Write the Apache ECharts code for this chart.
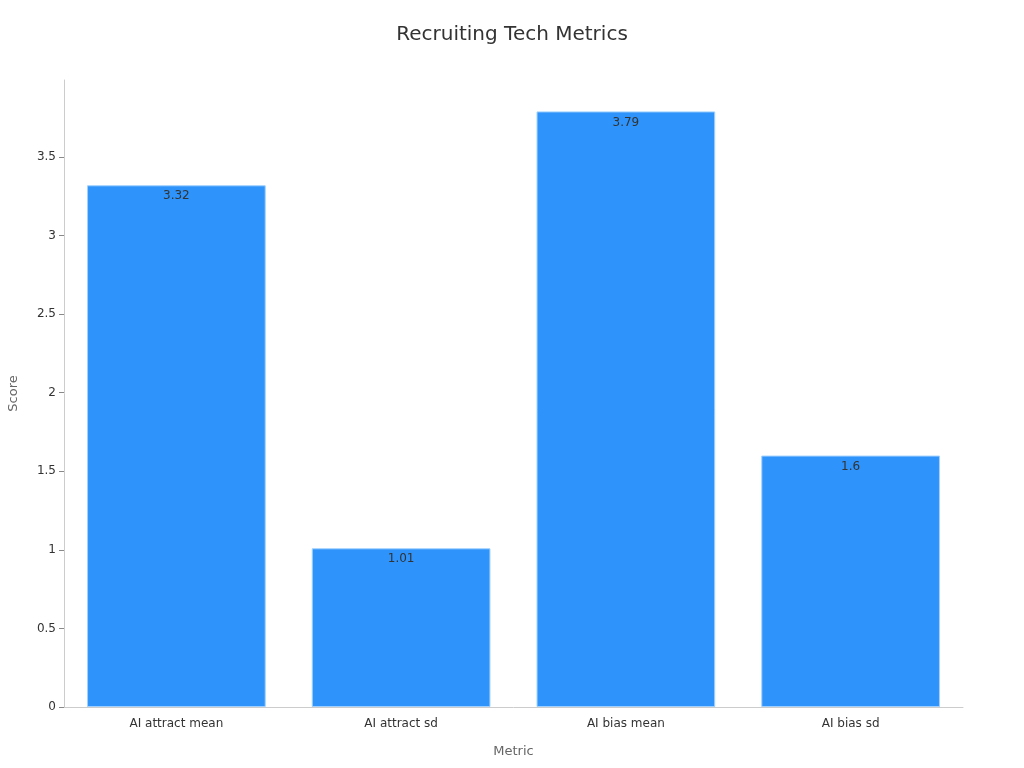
<!DOCTYPE html>
<html>
<head>
<meta charset="utf-8">
<script src="https://cdn.jsdelivr.net/npm/echarts@6/dist/echarts.min.js"></script>
<style>html,body{margin:0;padding:0;background:#fff}#c{width:1024px;height:768px}</style>
</head>
<body>
<div id="c"></div>
<script>
var categories = ['AI attract mean', 'AI attract sd', 'AI bias mean', 'AI bias sd'];
var scores = [3.32, 1.01, 3.79, 1.6];
var yTicks = [0, 0.5, 1, 1.5, 2, 2.5, 3, 3.5];
var yMax = 3.99;

var chart = echarts.init(document.getElementById('c'));
chart.setOption({
  backgroundColor: '#fff',
  textStyle: { fontFamily: 'DejaVu Sans' },
  title: {
    text: 'Recruiting Tech Metrics',
    left: 'center',
    top: 20,
    textStyle: { fontSize: 20, fontWeight: 'normal', color: '#333', fontFamily: 'DejaVu Sans' }
  },
  grid: { left: 64, right: 61, top: 80, bottom: 61, containLabel: false, outerBoundsMode: 'none' },
  xAxis: {
    type: 'category',
    data: categories,
    name: 'Metric',
    nameLocation: 'middle',
    nameGap: 38,
    nameTextStyle: { color: '#666', fontSize: 13 },
    axisLine: { lineStyle: { color: '#ccc' } },
    axisTick: { alignWithLabel: true, lineStyle: { color: '#666' } },
    axisLabel: { color: '#333', fontSize: 12, margin: 11 }
  },
  yAxis: {
    type: 'value',
    min: 0,
    max: yMax,
    interval: 0.5,
    name: 'Score',
    nameLocation: 'middle',
    nameGap: 44,
    nameTextStyle: { color: '#666', fontSize: 13 },
    axisLine: { show: true, lineStyle: { color: '#ccc' } },
    axisTick: { show: true, customValues: yTicks, length: 5, lineStyle: { color: '#888' } },
    axisLabel: { color: '#333', fontSize: 12, customValues: yTicks, margin: 8 },
    splitLine: { show: false }
  },
  series: [{
    type: 'bar',
    data: scores,
    barCategoryGap: '20.5%',
    itemStyle: { color: '#2E93FA', borderColor: '#9fd0ff', borderWidth: 1 },
    label: { show: true, position: 'insideTop', color: '#333', fontSize: 12, distance: 5 }
  }]
});
</script>
</body>
</html>
